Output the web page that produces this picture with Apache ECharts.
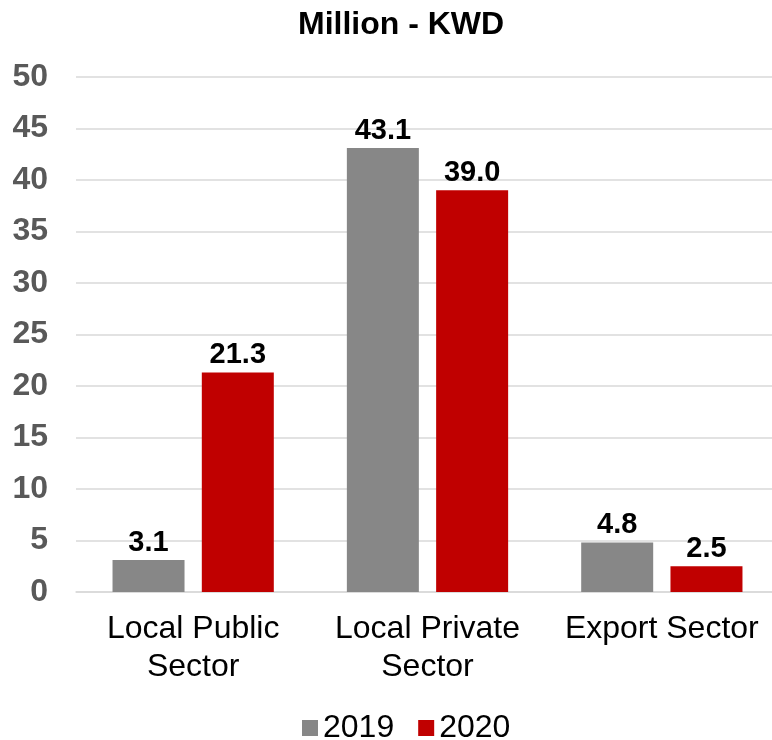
<!DOCTYPE html>
<html>
<head>
<meta charset="utf-8">
<script src="https://cdn.jsdelivr.net/npm/echarts@6/dist/echarts.min.js"></script>
<style>
html,body{margin:0;padding:0;background:#fff;}
#main{width:772px;height:740px;}
</style>
</head>
<body>
<div id="main"></div>
<script>
var titleText = 'Million - KWD';
var categories = ['Local Public\nSector', 'Local Private\nSector', 'Export Sector'];
var seriesNames = ['2019', '2020'];
var values2019 = [3.1, 43.1, 4.8];
var values2020 = [21.3, 39.0, 2.5];
var yTicks = [0, 5, 10, 15, 20, 25, 30, 35, 40, 45, 50];

var colors = ['#878787', '#c00000'];
var FONT = '"Liberation Sans", Arial, sans-serif';

var chart = echarts.init(document.getElementById('main'), null, {renderer: 'canvas'});

function labelCfg() {
  return {
    show: true,
    position: 'top',
    distance: 3,
    fontFamily: FONT,
    fontSize: 29,
    fontWeight: 'bold',
    color: '#000',
    formatter: function (p) { return Number(p.value).toFixed(1); }
  };
}

chart.setOption({
  animation: false,
  backgroundColor: '#fff',
  title: {
    text: titleText,
    left: 293,
    top: 4,
    textStyle: {fontFamily: FONT, fontSize: 32, fontWeight: 'bold', color: '#000'}
  },
  legend: {
    data: seriesNames,
    top: 707,
    left: 297,
    icon: 'rect',
    itemWidth: 16,
    itemHeight: 16,
    itemGap: 24,
    textStyle: {fontFamily: FONT, fontSize: 32, color: '#000'}
  },
  grid: {left: 76, width: 703, top: 77, bottom: 148, containLabel: false, outerBoundsMode: 'none'},
  xAxis: {
    type: 'category',
    data: categories,
    axisLine: {show: true, lineStyle: {color: '#d9d9d9', width: 1.5}},
    axisTick: {show: false},
    axisLabel: {
      fontFamily: FONT, fontSize: 32, color: '#000', margin: 18, lineHeight: 38, interval: 0
    }
  },
  yAxis: {
    type: 'value',
    min: yTicks[0],
    max: yTicks[yTicks.length - 1],
    interval: yTicks[1] - yTicks[0],
    axisLine: {show: false},
    axisTick: {show: false},
    splitLine: {lineStyle: {color: '#d9d9d9', width: 1.5}},
    axisLabel: {fontFamily: FONT, fontSize: 32, fontWeight: 'bold', color: '#595959', margin: 28}
  },
  series: [
    {name: seriesNames[0], type: 'bar', data: values2019, barWidth: 72, barGap: '24%',
     itemStyle: {color: colors[0]}, label: labelCfg()},
    {name: seriesNames[1], type: 'bar', data: values2020, barWidth: 72, barGap: '24%',
     itemStyle: {color: colors[1]}, label: labelCfg()}
  ]
});
</script>
</body>
</html>
